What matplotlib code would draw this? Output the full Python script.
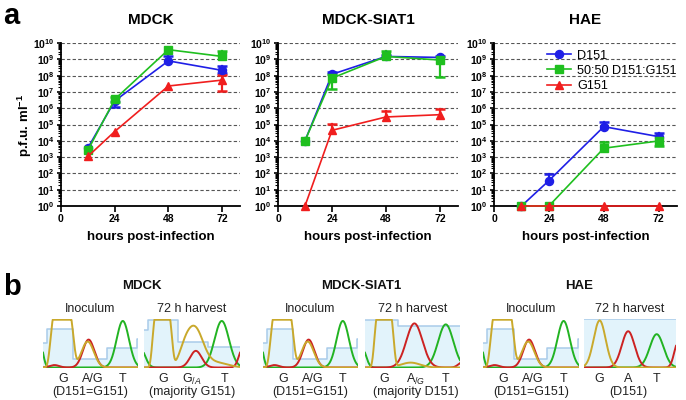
import numpy as np
import matplotlib
matplotlib.use("Agg")
import matplotlib.pyplot as plt
from matplotlib.ticker import FixedLocator, LogLocator, NullFormatter, FuncFormatter
from matplotlib.lines import Line2D

plt.rcParams['font.family'] = ['Liberation Sans', 'DejaVu Sans']
plt.rcParams['mathtext.fontset'] = 'custom'
plt.rcParams['mathtext.rm'] = 'Liberation Sans'
plt.rcParams['mathtext.bf'] = 'Liberation Sans:bold'
plt.rcParams['mathtext.it'] = 'Liberation Sans:italic'

# ---------------- data: panel a ----------------
hours = [12, 24, 48, 72]
cells = ["MDCK", "MDCK-SIAT1", "HAE"]
series_names = ["D151", "50:50 D151:G151", "G151"]

# MDCK
mdck_d151 = [3.6e3, 2.8e6, 8.0e8, 2.1e8]
mdck_d151_hi = [3.6e3, 2.8e6, 1.7e9, 4.0e8]
mdck_d151_lo = [3.6e3, 1.2e6, 8.0e8, 1.5e8]
mdck_mix = [2.6e3, 3.5e6, 3.9e9, 1.5e9]
mdck_mix_hi = [2.6e3, 5.0e6, 3.9e9, 3.4e9]
mdck_mix_lo = [2.6e3, 2.4e6, 3.9e9, 1.5e9]
mdck_g151 = [1.1e3, 3.7e4, 2.3e7, 5.3e7]
mdck_g151_hi = [1.1e3, 3.7e4, 2.3e7, 1.1e8]
mdck_g151_lo = [1.1e3, 3.7e4, 2.3e7, 1.1e7]

# MDCK-SIAT1
siat_d151 = [1.0e4, 1.2e8, 1.5e9, 1.3e9]
siat_d151_hi = [1.0e4, 1.6e8, 1.9e9, 1.7e9]
siat_d151_lo = [1.0e4, 1.2e8, 1.5e9, 1.3e9]
siat_mix = [1.0e4, 7.0e7, 1.5e9, 9.0e8]
siat_mix_hi = [1.0e4, 1.2e8, 3.4e9, 9.0e8]
siat_mix_lo = [1.0e4, 1.6e7, 1.5e9, 8.0e7]
siat_g151 = [1.0, 4.4e4, 2.9e5, 4.0e5]
siat_g151_hi = [1.0, 1.1e5, 6.6e5, 9.3e5]
siat_g151_lo = [1.0, 4.4e4, 2.9e5, 4.0e5]

# HAE
hae_d151 = [1.0, 36, 7.4e4, 1.8e4]
hae_d151_hi = [1.0, 98, 1.5e5, 2.9e4]
hae_d151_lo = [1.0, 36, 7.4e4, 1.8e4]
hae_mix = [1.0, 1.0, 3.5e3, 9.8e3]
hae_mix_hi = [1.0, 1.0, 9.0e3, 9.8e3]
hae_mix_lo = [1.0, 1.0, 3.5e3, 5.0e3]
hae_g151 = [1.0, 1.0, 1.0, 1.0]
hae_g151_hi = [1.0, 1.0, 1.0, 1.0]
hae_g151_lo = [1.0, 1.0, 1.0, 1.0]

panel_data = [
    [(mdck_d151, mdck_d151_lo, mdck_d151_hi), (mdck_mix, mdck_mix_lo, mdck_mix_hi), (mdck_g151, mdck_g151_lo, mdck_g151_hi)],
    [(siat_d151, siat_d151_lo, siat_d151_hi), (siat_mix, siat_mix_lo, siat_mix_hi), (siat_g151, siat_g151_lo, siat_g151_hi)],
    [(hae_d151, hae_d151_lo, hae_d151_hi), (hae_mix, hae_mix_lo, hae_mix_hi), (hae_g151, hae_g151_lo, hae_g151_hi)],
]
x_ticks = [0, 24, 48, 72]

# ---------------- data: panel b (chromatogram peaks: centre, height, width, shape) ----------------
inoc_yellow = [(0.20, 1.3, 0.11, 5), (0.47, 0.53, 0.065, 2)]
inoc_red = [(0.48, 0.57, 0.06, 2), (0.12, 0.05, 0.05, 2)]
inoc_green = [(0.84, 0.95, 0.065, 2), (-0.03, 0.5, 0.03, 2)]
inoc_step_edges = [0, 0.04, 0.32, 0.67, 0.985, 1.0]
inoc_step_levels = [0.51, 0.79, 0.19, 0.40, 0.60]

mdck_h_yellow = [(0.19, 1.3, 0.092, 5), (0.53, 0.78, 0.085, 2), (0.42, 0.25, 0.06, 2), (0.75, 0.1, 0.12, 2)]
mdck_h_red = [(0.54, 0.34, 0.06, 2), (1.03, 0.4, 0.04, 2)]
mdck_h_green = [(0.81, 0.95, 0.075, 2), (-0.04, 0.4, 0.05, 2)]
mdck_h_step_edges = [0, 0.04, 0.35, 0.67, 1.0]
mdck_h_step_levels = [0.77, 0.98, 0.53, 0.43]

siat_h_yellow = [(0.20, 1.3, 0.092, 5), (0.48, 0.1, 0.1, 2)]
siat_h_red = [(0.52, 0.90, 0.085, 2), (1.02, 0.1, 0.04, 2)]
siat_h_green = [(0.85, 0.88, 0.08, 2), (-0.03, 0.4, 0.04, 2)]
siat_h_step_edges = [0, 0.35, 1.0]
siat_h_step_levels = [0.98, 0.86]

hae_h_yellow = [(0.17, 0.96, 0.065, 2)]
hae_h_red = [(0.48, 0.74, 0.07, 2), (1.02, 0.5, 0.04, 2)]
hae_h_green = [(0.79, 0.68, 0.075, 2)]
hae_h_step_edges = [0, 1.0]
hae_h_step_levels = [1.0]

inoc_bases = ["G", "A/G", "T"]
inoc_base_pos = [0.21, 0.52, 0.84]
inoc_note = "(D151=G151)"
harvest_bases = [["G", r"G$_{/A}$", "T"], ["G", r"A$_{/G}$", "T"], ["G", "A", "T"]]
harvest_base_pos = [[0.20, 0.50, 0.84], [0.20, 0.53, 0.85], [0.17, 0.48, 0.79]]
harvest_notes = ["(majority G151)", "(majority D151)", "(D151)"]

harvest_traces = [
    (mdck_h_yellow, mdck_h_red, mdck_h_green, mdck_h_step_edges, mdck_h_step_levels),
    (siat_h_yellow, siat_h_red, siat_h_green, siat_h_step_edges, siat_h_step_levels),
    (hae_h_yellow, hae_h_red, hae_h_green, hae_h_step_edges, hae_h_step_levels),
]

# ---------------- styling ----------------
W, H = 686, 400
colors = ['#1f1fe6', '#1fbf1f', '#f01e1e']
markers = ['o', 's', '^']

fig = plt.figure(figsize=(W / 100, H / 100), dpi=100)

def fx(px):
    return px / W

def fy(py):
    return 1 - py / H

axes_px = [(61, 240), (278, 458), (494, 677)]
top_px, bot_px = 43, 206

for i, (x0, x1) in enumerate(axes_px):
    ax = fig.add_axes([fx(x0), fy(bot_px), fx(x1 - x0), (bot_px - top_px) / H])
    ax.set_yscale('log')
    ax.set_ylim(1, 1e10)
    ax.set_xlim(0, 80)
    for s in ['top', 'right']:
        ax.spines[s].set_visible(False)
    for s in ['left', 'bottom']:
        ax.spines[s].set_linewidth(1.3)
    ax.yaxis.set_major_locator(FixedLocator([10.0 ** k for k in range(11)]))
    ax.yaxis.set_minor_locator(LogLocator(base=10, subs=np.arange(2, 10), numticks=20))
    ax.yaxis.set_minor_formatter(NullFormatter())
    ax.yaxis.set_major_formatter(FuncFormatter(lambda v, p: r'$\mathbf{10^{%d}}$' % int(round(np.log10(v)))))
    ax.set_xticks(x_ticks)
    ax.set_xticklabels([str(t) for t in x_ticks], fontweight='bold', fontsize=7.5)
    ax.tick_params(axis='y', which='major', length=3, width=1.2, labelsize=7.5, pad=1.5)
    ax.tick_params(axis='y', which='minor', length=2, width=0.8)
    ax.tick_params(axis='x', which='major', length=4, width=1.2, pad=2)
    ax.grid(axis='y', which='major', linestyle=(0, (3, 2)), color='#555555', linewidth=0.8)
    ax.set_axisbelow(True)

    for j, (vals, lo, hi) in enumerate(panel_data[i]):
        c = colors[j]
        for xv, v, l, h in zip(hours, vals, lo, hi):
            if h > v:
                ax.plot([xv, xv], [v, h], color=c, lw=1.6, zorder=3, clip_on=False)
                ax.plot([xv], [h], marker='_', ms=7, mew=1.8, color=c, zorder=3, clip_on=False)
            if l < v:
                ax.plot([xv, xv], [l, v], color=c, lw=1.6, zorder=3, clip_on=False)
                ax.plot([xv], [l], marker='_', ms=7, mew=1.8, color=c, zorder=3, clip_on=False)
        ax.plot(hours, vals, color=c, lw=1.2, marker=markers[j], ms=5.8, zorder=4 + j,
                clip_on=False, label=series_names[j])

    cx = (x0 + x1) / 2
    fig.text(fx(cx), fy(20), cells[i], ha='center', va='center', fontsize=11, fontweight='bold')
    fig.text(fx(cx), fy(237), "hours post-infection", ha='center', va='center', fontsize=9.5, fontweight='bold')

    if i == 2:
        handles = [Line2D([], [], color=colors[k], marker=markers[k], ms=5.8, lw=1.2) for k in range(3)]
        ax.legend(handles, series_names, loc='upper left', bbox_to_anchor=(0.26, 0.99),
                  frameon=False, fontsize=9.1, handlelength=1.9, handletextpad=0.5,
                  labelspacing=0.25, borderaxespad=0)

fig.text(fx(25), fy(125), r"p.f.u. ml$^{\mathbf{-1}}$", rotation=90, ha='center', va='center',
         fontsize=9.5, fontweight='bold')
fig.text(fx(3), fy(16), "a", ha='left', va='center', fontsize=21, fontweight='bold')
fig.text(fx(3), fy(287), "b", ha='left', va='center', fontsize=21, fontweight='bold')

# ---------------- panel b ----------------
xs = np.linspace(0, 1, 500)

def trace(peaks):
    y = np.zeros_like(xs)
    for c, h, s, p in peaks:
        y = y + h * np.exp(-0.5 * np.abs((xs - c) / s) ** p)
    return np.minimum(y, 0.975) + 0.01

def draw_chrom(x0, x1, yellow, red, green, edges, levels):
    ax = fig.add_axes([fx(x0), fy(368), fx(x1 - x0), 49 / H])
    ax.set_xlim(0, 1)
    ax.set_ylim(0, 1)
    ax.axis('off')
    sx = []
    sy = []
    for k, lv in enumerate(levels):
        sx += [edges[k], edges[k + 1]]
        sy += [lv, lv]
    ax.fill_between(sx, 0, sy, color='#e2f3fb', lw=0, zorder=1)
    ax.plot(sx, sy, color='#a9cbea', lw=1.1, zorder=2)
    ax.plot([0, 1], [0.008, 0.008], color='#b0a8e0', lw=0.8, zorder=2)
    ax.plot(xs, trace(green), color='#22b322', lw=1.4, zorder=3)
    ax.plot(xs, trace(red), color='#cc2222', lw=1.4, zorder=4)
    ax.plot(xs, trace(yellow), color='#c9a92c', lw=1.4, zorder=5)
    return ax

groups_px = [((43, 138), (144, 240)), ((263, 358), (365, 460)), ((483, 579), (584, 676))]
text_col = '#222222'
for g, ((ix0, ix1), (hx0, hx1)) in enumerate(groups_px):
    draw_chrom(ix0, ix1, inoc_yellow, inoc_red, inoc_green, inoc_step_edges, inoc_step_levels)
    hy, hr, hg, he, hl = harvest_traces[g]
    draw_chrom(hx0, hx1, hy, hr, hg, he, hl)
    fig.text(fx((ix0 + hx1) / 2), fy(286), cells[g], ha='center', va='center', fontsize=9.5,
             fontweight='bold', color='#111111')
    fig.text(fx((ix0 + ix1) / 2), fy(309), "Inoculum", ha='center', va='center', fontsize=9, color=text_col)
    fig.text(fx((hx0 + hx1) / 2), fy(309), "72 h harvest", ha='center', va='center', fontsize=9, color=text_col)
    for lab, pos in zip(inoc_bases, inoc_base_pos):
        fig.text(fx(ix0 + pos * (ix1 - ix0)), fy(379), lab, ha='center', va='center', fontsize=9, color=text_col)
    fig.text(fx((ix0 + ix1) / 2), fy(392), inoc_note, ha='center', va='center', fontsize=9, color=text_col)
    for lab, pos in zip(harvest_bases[g], harvest_base_pos[g]):
        fig.text(fx(hx0 + pos * (hx1 - hx0)), fy(379), lab, ha='center', va='center', fontsize=9, color=text_col)
    npos = harvest_base_pos[g][1]
    fig.text(fx(hx0 + npos * (hx1 - hx0)), fy(392), harvest_notes[g], ha='center', va='center',
             fontsize=9, color=text_col)

fig.savefig("out.png", dpi=100)
